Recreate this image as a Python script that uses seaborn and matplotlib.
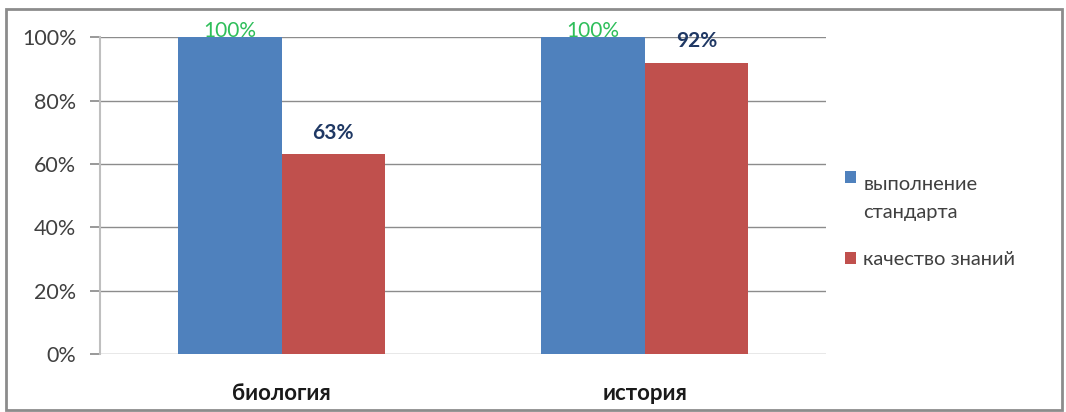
import matplotlib
matplotlib.use("Agg")
import matplotlib.pyplot as plt
import seaborn as sns
import pandas as pd
from matplotlib.ticker import PercentFormatter
from matplotlib.patches import Rectangle
from matplotlib.legend_handler import HandlerPatch

categories = ["биология", "история"]
series_names = ["выполнение\nстандарта", "качество знаний"]
standard_values = [1.00, 1.00]
quality_values = [0.63, 0.92]
colors = ["#4F81BD", "#C0504D"]
label_colors = ["#2EBE5A", "#1F3864"]

df = pd.DataFrame({
    "category": categories * 2,
    "series": [series_names[0]] * 2 + [series_names[1]] * 2,
    "value": standard_values + quality_values,
})

sns.set_theme(style="white")
plt.rcParams["font.family"] = ["Lato", "DejaVu Sans"]

fig = plt.figure(figsize=(10.66, 4.12), dpi=100)
ax = fig.add_axes([0.0938, 0.1408, 0.775 - 0.0938, 0.769])

sns.barplot(data=df, x="category", y="value", hue="series", order=categories,
            hue_order=series_names, palette=colors, width=0.57, ax=ax,
            saturation=1, errorbar=None, edgecolor="none", linewidth=0)

ax.set_ylim(0, 1)
ax.set_xlim(-0.5, 1.5)
ax.yaxis.set_major_formatter(PercentFormatter(1.0, decimals=0))
ax.set_yticks([0, 0.2, 0.4, 0.6, 0.8, 1.0])
ax.grid(axis="y", color="#8C8C8C", linewidth=1)
ax.set_axisbelow(True)
for s in ["top", "right", "bottom"]:
    ax.spines[s].set_visible(False)
ax.spines["left"].set_color("#BFBFBF")
ax.spines["left"].set_linewidth(1.5)
ax.tick_params(axis="y", left=True, length=7, color="#8C8C8C", labelsize=15.5,
               labelcolor="#404040", pad=10)
ax.tick_params(axis="x", bottom=False, labelsize=16, pad=15)
for lbl in ax.get_xticklabels():
    lbl.set_fontweight("bold")
    lbl.set_color("#1a1a1a")
ax.set_xlabel("")
ax.set_ylabel("")

for cont, lc, w in zip(ax.containers, label_colors, ["normal", "bold"]):
    labels = [f"{v*100:.0f}%" for v in cont.datavalues]
    ax.bar_label(cont, labels=labels, color=lc, fontsize=15, fontweight=w,
                 padding=8 if w == "bold" else -3, clip_on=False)


def top_square(legend, orig_handle, xdescent, ydescent, width, height, fontsize):
    return Rectangle((-xdescent, -ydescent + 1.05 * fontsize), width, height)


def plain_square(legend, orig_handle, xdescent, ydescent, width, height, fontsize):
    return Rectangle((-xdescent, -ydescent), width, height)


handles, labs = ax.get_legend_handles_labels()
leg = ax.legend(handles, labs, loc="center left", bbox_to_anchor=(0.776, 0.461),
                bbox_transform=fig.transFigure, frameon=False, fontsize=14.5,
                handlelength=0.55, handleheight=0.55, handletextpad=0.35,
                labelspacing=1.5, labelcolor="#404040",
                handler_map={handles[0]: HandlerPatch(patch_func=top_square),
                             handles[1]: HandlerPatch(patch_func=plain_square)})
for t in leg.get_texts():
    t.set_linespacing(1.75)

fig.patches.append(Rectangle((0.006, 0.004), 0.99, 0.975, transform=fig.transFigure,
                             fill=False, edgecolor="#8C8C8C", linewidth=2))

fig.savefig("out.png", dpi=100)
